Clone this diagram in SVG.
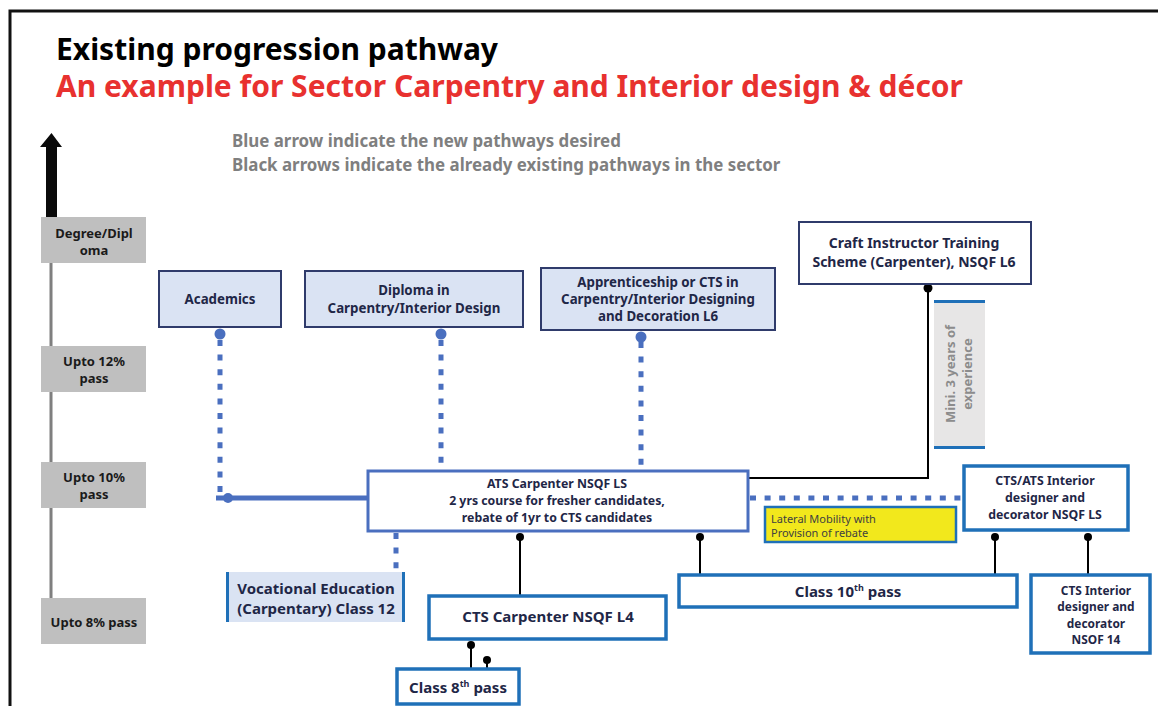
<svg xmlns="http://www.w3.org/2000/svg" width="1158" height="706" viewBox="0 0 1158 706">
  <style>
    text { font-family: "Noto Sans", "Open Sans", "Liberation Sans", sans-serif; font-weight: bold; }
    .title { font-size: 30px; fill: #000; }
    .subtitle { font-size: 30px; fill: #e8312f; }
    .legend { font-size: 16.9px; fill: #7f7f7f; }
    .lvl rect { fill: #bfbfbf; }
    .lvl text { font-size: 13px; fill: #1a1a1a; text-anchor: middle; }
    .n { font-size: 12.3px; fill: #1f2747; text-anchor: middle; }
    .n12 { font-size: 11.9px; }
    .n13 { font-size: 13.3px; }
    .n14 { font-size: 14px; }
    .nb { font-size: 15px; fill: #1f2747; text-anchor: middle; }
    .note { font-size: 11px; font-weight: normal; fill: #404040; }
    .navy { fill: #dae3f3; stroke: #2f3b6b; stroke-width: 2; }
    .navyw { fill: #fff; stroke: #2f3b6b; stroke-width: 2; }
    .ats { fill: #fff; stroke: #4a6fbf; stroke-width: 3; }
    .blue { fill: #fff; stroke: #1f70b8; stroke-width: 3.5; }
    .dot { fill: none; stroke: #4a6fbf; stroke-width: 5; stroke-dasharray: 6 8.6; }
    .solid { fill: none; stroke: #000; stroke-width: 2; }
    .bd { fill: #4a6fbf; }
    .kd { fill: #000; }
  </style>

  <!-- frame -->
  <path d="M10 706 V11 H1158" fill="none" stroke="#111" stroke-width="3"/>

  <!-- headings -->
  <text class="title" x="56" y="60">Existing progression pathway</text>
  <text class="subtitle" x="56" y="97">An example for Sector Carpentry and Interior design &amp; décor</text>
  <text class="legend" x="232" y="147">Blue arrow indicate the new pathways desired</text>
  <text class="legend" x="232" y="171">Black arrows indicate the already existing pathways in the sector</text>

  <!-- level scale -->
  <g id="scale">
    <rect x="49.5" y="262" width="3" height="337" fill="#7f7f7f"/>
    <path d="M46 218 V147 H40 L51.5 133 L62 147 H57 V218 Z" fill="#0a0a0a"/>
    <g class="lvl" id="lvl-degree"><rect x="41" y="217" width="105" height="46"/><text x="94" y="238">Degree/Dipl</text><text x="94" y="255">oma</text></g>
    <g class="lvl" id="lvl-12"><rect x="41" y="346" width="105" height="46"/><text x="94" y="366">Upto 12%</text><text x="94" y="383">pass</text></g>
    <g class="lvl" id="lvl-10"><rect x="41" y="462" width="105" height="46"/><text x="94" y="482">Upto 10%</text><text x="94" y="499">pass</text></g>
    <g class="lvl" id="lvl-8"><rect x="41" y="598" width="105" height="46"/><text x="94" y="627">Upto 8% pass</text></g>
  </g>

  <!-- connectors -->
  <g id="connectors">
    <path class="dot" d="M220 340 V500"/>
    <path class="dot" d="M441 340 V470"/>
    <path class="dot" d="M641 342 V470"/>
    <path class="dot" d="M396 533 V572"/>
    <path class="dot" d="M750 498 H962"/>
    <path d="M216 498 H367" stroke="#4a6fbf" stroke-width="5" fill="none"/>
    <circle class="bd" cx="220" cy="334" r="5.5"/>
    <circle class="bd" cx="441" cy="334" r="5.5"/>
    <circle class="bd" cx="641" cy="337" r="5.5"/>
    <circle class="bd" cx="228" cy="498" r="5"/>

    <path class="solid" d="M748 478 H928 V288"/>
    <circle class="kd" cx="928" cy="288" r="4.5"/>
    <path class="solid" d="M520 537 V595"/>
    <circle class="kd" cx="520" cy="537" r="4"/>
    <path class="solid" d="M700 537 V574"/>
    <circle class="kd" cx="700" cy="537" r="4"/>
    <path class="solid" d="M995 537 V574"/>
    <circle class="kd" cx="995" cy="537" r="4"/>
    <path class="solid" d="M1088 537 V574"/>
    <circle class="kd" cx="1088" cy="537" r="4"/>
    <path class="solid" d="M471 645 V668"/>
    <circle class="kd" cx="471" cy="645" r="4"/>
    <path class="solid" d="M487 660 V668"/>
    <circle class="kd" cx="487" cy="660" r="4"/>
  </g>

  <!-- nodes -->
  <g id="academics">
    <rect class="navy" x="159" y="271" width="122" height="56"/>
    <text class="n n13" x="220" y="304">Academics</text>
  </g>
  <g id="diploma">
    <rect class="navy" x="305" y="271" width="218" height="56"/>
    <text class="n n13" x="414" y="295">Diploma in</text>
    <text class="n n13" x="414" y="313">Carpentry/Interior Design</text>
  </g>
  <g id="apprenticeship">
    <rect class="navy" x="541" y="268" width="234" height="62"/>
    <text class="n n13" x="658" y="287">Apprenticeship or CTS in</text>
    <text class="n n13" x="658" y="304">Carpentry/Interior Designing</text>
    <text class="n n13" x="658" y="321">and Decoration L6</text>
  </g>
  <g id="citS">
    <rect class="navyw" x="799" y="222" width="232" height="62"/>
    <text class="n n14" x="914" y="248">Craft Instructor Training</text>
    <text class="n n14" x="914" y="267">Scheme (Carpenter), NSQF L6</text>
  </g>
  <g id="experience">
    <rect x="934" y="302" width="51" height="146" fill="#e7e6e6"/>
    <rect x="934" y="300" width="51" height="3" fill="#1f70b8"/>
    <rect x="934" y="446" width="51" height="3" fill="#1f70b8"/>
    <g transform="translate(958 374) rotate(-90)">
      <text x="0" y="-3" font-size="13" fill="#8c8c8c" text-anchor="middle">Mini. 3 years of</text>
      <text x="0" y="14" font-size="13" fill="#8c8c8c" text-anchor="middle">experience</text>
    </g>
  </g>
  <g id="ats">
    <rect class="ats" x="368" y="471" width="380" height="60"/>
    <text class="n" x="557" y="488">ATS Carpenter NSQF LS</text>
    <text class="n" x="557" y="504.8">2 yrs course for fresher candidates,</text>
    <text class="n" x="557" y="521.6">rebate of 1yr to CTS candidates</text>
  </g>
  <g id="lateral">
    <rect x="765" y="507" width="191" height="35" fill="#f2e81c" stroke="#1f70b8" stroke-width="2.5"/>
    <text class="note" x="771" y="523">Lateral Mobility with</text>
    <text class="note" x="771" y="537">Provision of rebate</text>
  </g>
  <g id="interior-ls">
    <rect class="blue" x="964" y="466" width="164" height="64"/>
    <text class="n" x="1045" y="485">CTS/ATS Interior</text>
    <text class="n" x="1045" y="501.8">designer and</text>
    <text class="n" x="1045" y="518.6">decorator NSQF LS</text>
  </g>
  <g id="vocational">
    <rect x="226" y="572" width="179" height="50" fill="#dae3f3"/>
    <rect x="226" y="572" width="3" height="50" fill="#1f70b8"/>
    <rect x="402" y="572" width="3" height="50" fill="#1f70b8"/>
    <text class="nb" x="316" y="594">Vocational Education</text>
    <text class="nb" x="316" y="614">(Carpentary) Class 12</text>
  </g>
  <g id="cts-l4">
    <rect class="blue" x="429" y="596" width="237" height="43"/>
    <text class="nb" x="548" y="622">CTS Carpenter NSQF L4</text>
  </g>
  <g id="class8">
    <rect class="blue" x="397" y="669" width="122" height="35"/>
    <text class="nb" x="458" y="693">Class 8<tspan font-size="9" dy="-6">th</tspan><tspan dy="6"> pass</tspan></text>
  </g>
  <g id="class10">
    <rect class="blue" x="679" y="575" width="338" height="32"/>
    <text class="nb" x="848" y="597">Class 10<tspan font-size="9" dy="-6">th</tspan><tspan dy="6"> pass</tspan></text>
  </g>
  <g id="interior-14">
    <rect class="blue" x="1031" y="575" width="119" height="78"/>
    <text class="n n12" x="1096" y="595">CTS Interior</text>
    <text class="n n12" x="1096" y="611.3">designer and</text>
    <text class="n n12" x="1096" y="627.6">decorator</text>
    <text class="n n12" x="1096" y="643.9">NSOF 14</text>
  </g>
</svg>
